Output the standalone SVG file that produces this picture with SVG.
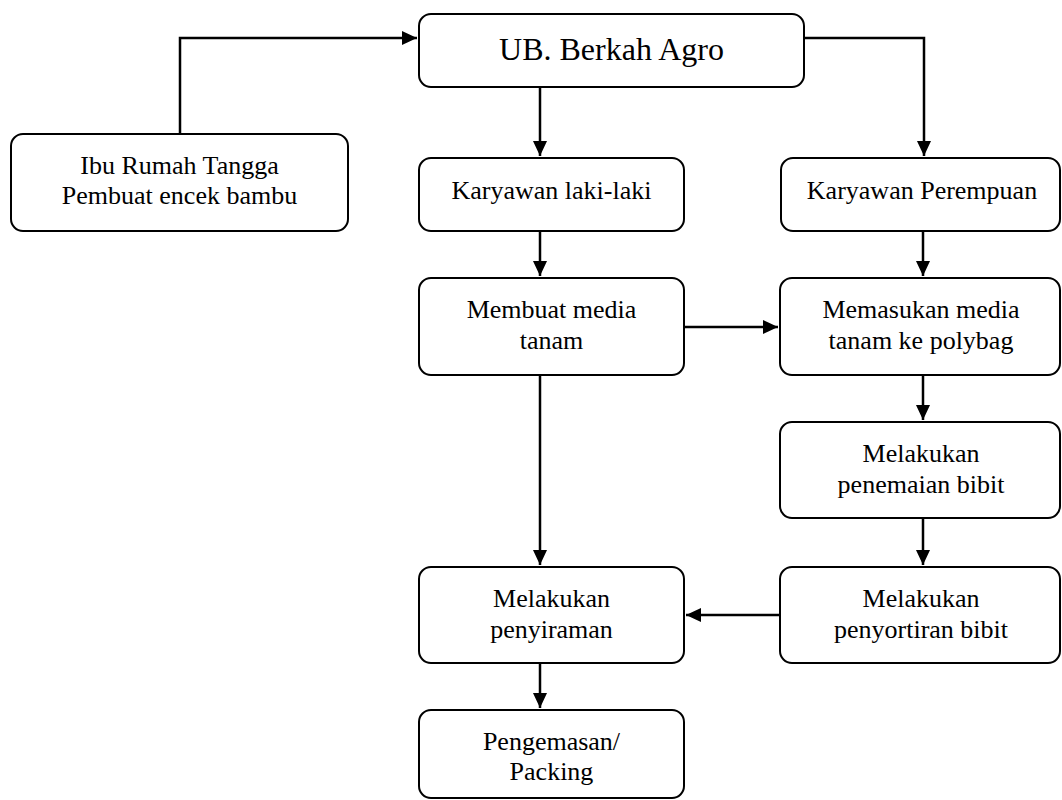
<svg xmlns="http://www.w3.org/2000/svg" width="1062" height="800" viewBox="0 0 1062 800">
<style>
.box{fill:#fff;stroke:#000;stroke-width:2}
.t{font-family:"Liberation Serif","Times New Roman",serif;font-size:26px;fill:#000;text-anchor:middle}
.big{font-size:32px}
.c{fill:none;stroke:#000;stroke-width:2.5}
</style>
<defs>
<marker id="ah" markerWidth="15" markerHeight="14" refX="15" refY="7" orient="auto" markerUnits="userSpaceOnUse">
<path d="M0,0 L15,7 L0,14 Z" fill="#000"/>
</marker>
</defs>
<rect width="1062" height="800" fill="#fff"/>
<g id="connectors">
<path class="c" d="M180,134 V38 H417" marker-end="url(#ah)"/>
<path class="c" d="M540,87 V156" marker-end="url(#ah)"/>
<path class="c" d="M804,38 H924 V156" marker-end="url(#ah)"/>
<path class="c" d="M540,231 V276" marker-end="url(#ah)"/>
<path class="c" d="M923,231 V276" marker-end="url(#ah)"/>
<path class="c" d="M684,327 H778" marker-end="url(#ah)"/>
<path class="c" d="M923,375 V420" marker-end="url(#ah)"/>
<path class="c" d="M923,518 V565" marker-end="url(#ah)"/>
<path class="c" d="M540,375 V565" marker-end="url(#ah)"/>
<path class="c" d="M780,615 H686" marker-end="url(#ah)"/>
<path class="c" d="M540,663 V708" marker-end="url(#ah)"/>
</g>
<g id="ub">
<rect class="box" x="419" y="14" width="385" height="73" rx="12"/>
<text class="t big" x="611.5" y="60">UB. Berkah Agro</text>
</g>
<g id="ibu">
<rect class="box" x="11" y="134" width="337" height="97" rx="12"/>
<text class="t" x="179.5" y="174">Ibu Rumah Tangga</text>
<text class="t" x="179.5" y="204">Pembuat encek bambu</text>
</g>
<g id="laki">
<rect class="box" x="419" y="158" width="265" height="73" rx="12"/>
<text class="t" x="551.5" y="199">Karyawan laki-laki</text>
</g>
<g id="perempuan">
<rect class="box" x="781" y="158" width="279" height="73" rx="12"/>
<text class="t" x="922" y="199">Karyawan Perempuan</text>
</g>
<g id="membuat">
<rect class="box" x="419" y="278" width="265" height="97" rx="12"/>
<text class="t" x="551.5" y="318">Membuat media</text>
<text class="t" x="551.5" y="349">tanam</text>
</g>
<g id="memasukan">
<rect class="box" x="780" y="278" width="280" height="97" rx="12"/>
<text class="t" x="921" y="318">Memasukan media</text>
<text class="t" x="921" y="349">tanam ke polybag</text>
</g>
<g id="penemaian">
<rect class="box" x="780" y="422" width="280" height="96" rx="12"/>
<text class="t" x="921" y="462">Melakukan</text>
<text class="t" x="921" y="493">penemaian bibit</text>
</g>
<g id="penyortiran">
<rect class="box" x="780" y="567" width="280" height="96" rx="12"/>
<text class="t" x="921" y="607">Melakukan</text>
<text class="t" x="921" y="638">penyortiran bibit</text>
</g>
<g id="penyiraman">
<rect class="box" x="419" y="567" width="265" height="96" rx="12"/>
<text class="t" x="551.5" y="607">Melakukan</text>
<text class="t" x="551.5" y="638">penyiraman</text>
</g>
<g id="pengemasan">
<rect class="box" x="419" y="710" width="265" height="88" rx="12"/>
<text class="t" x="551.5" y="750">Pengemasan/</text>
<text class="t" x="551.5" y="780">Packing</text>
</g>
</svg>
